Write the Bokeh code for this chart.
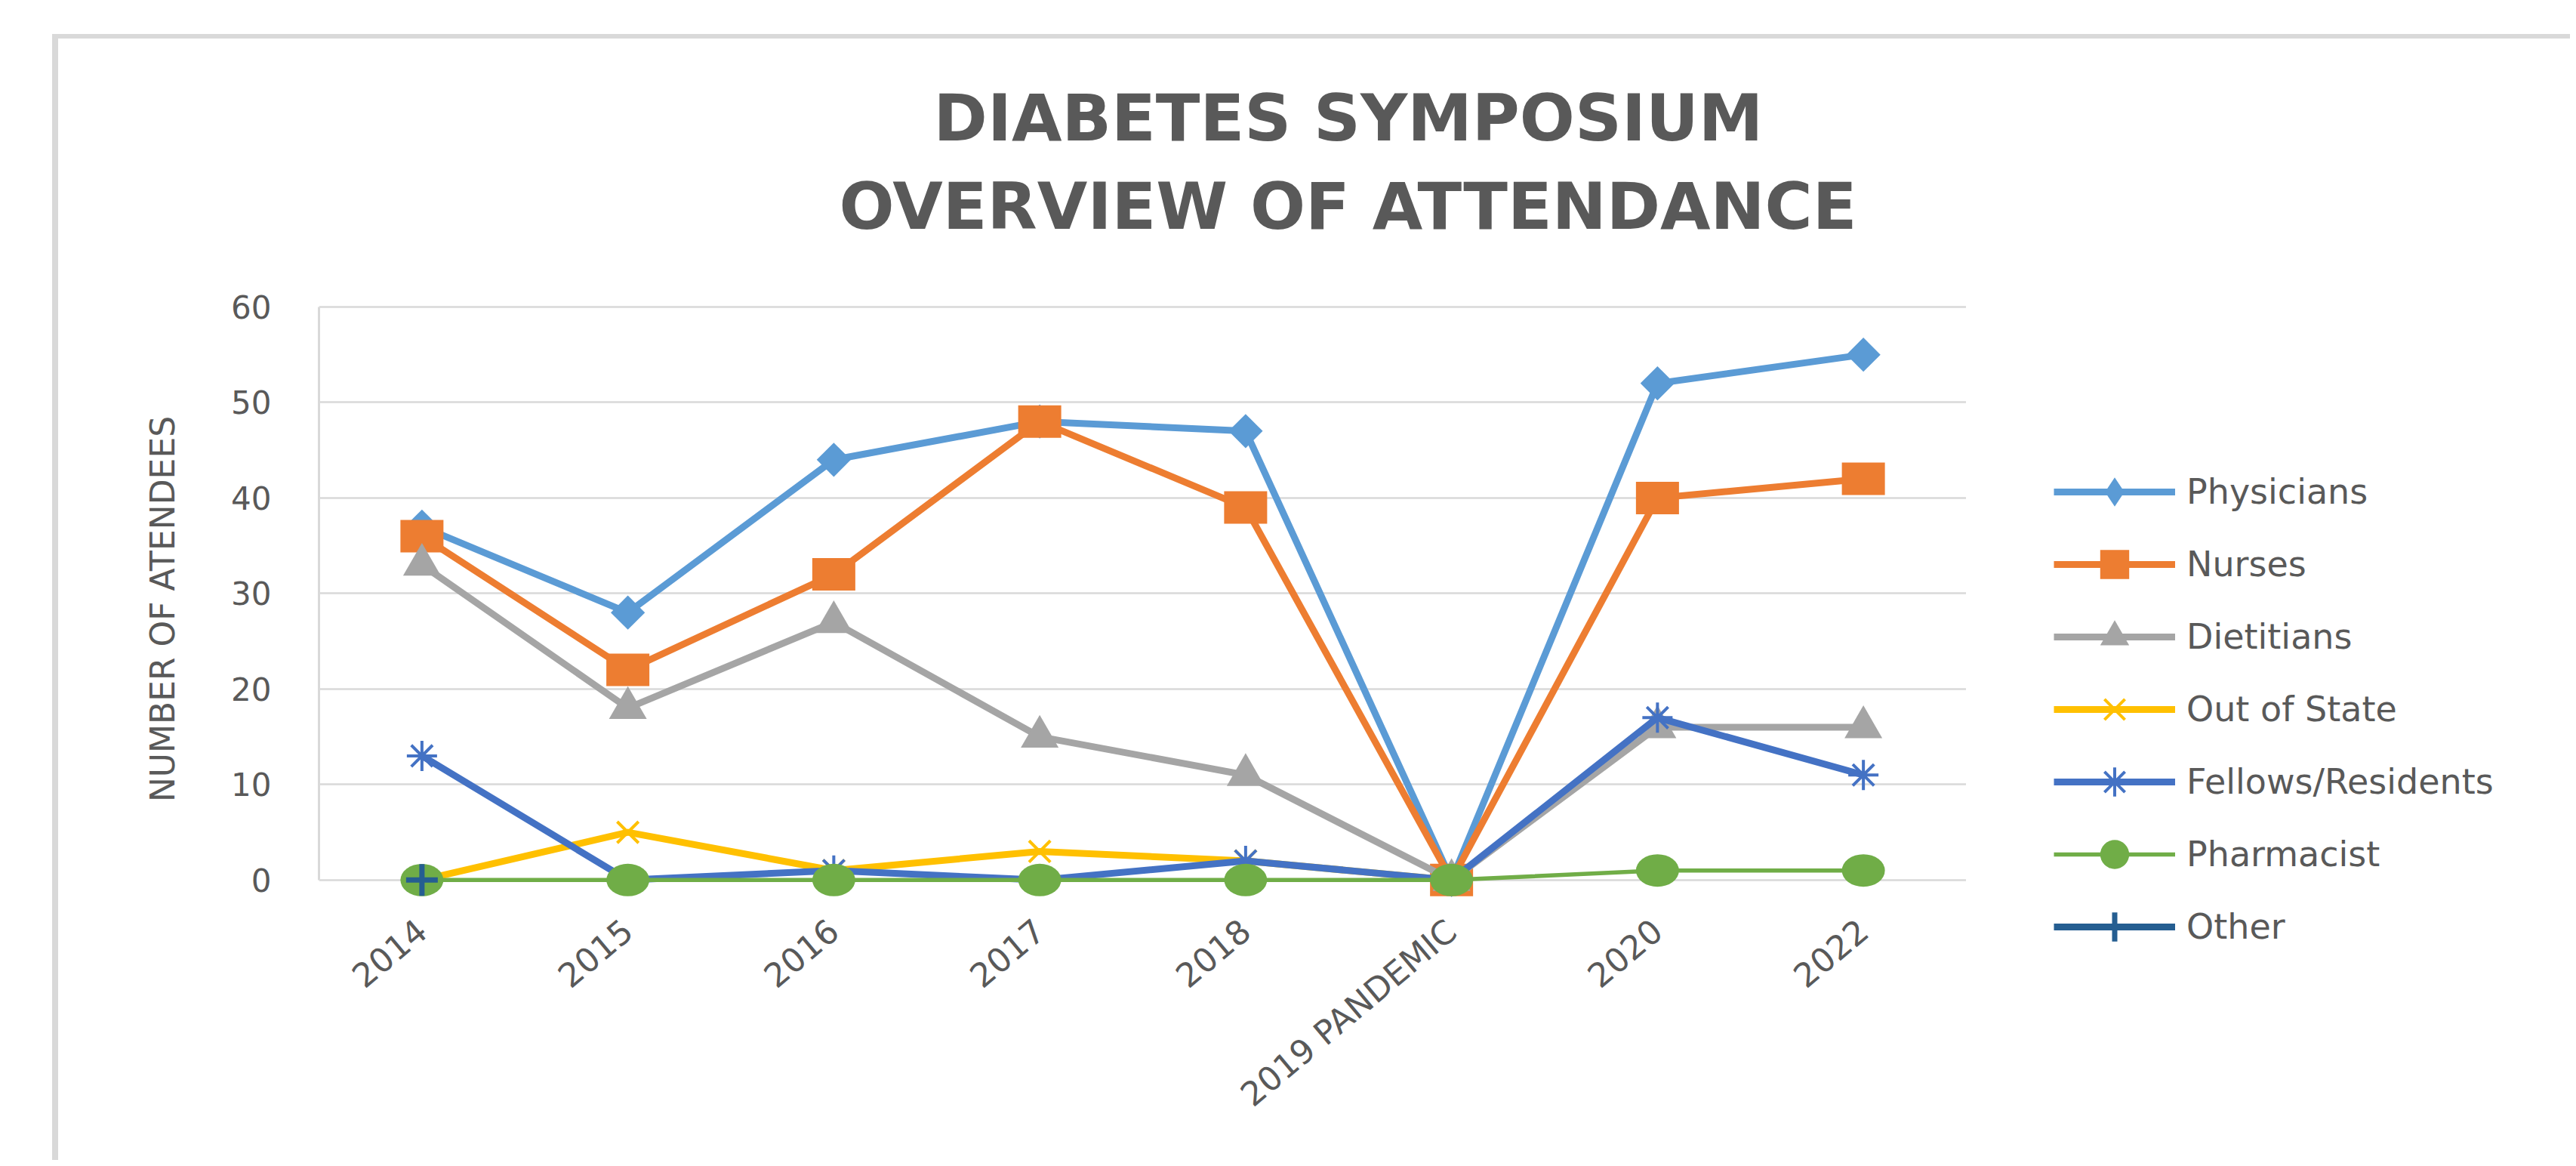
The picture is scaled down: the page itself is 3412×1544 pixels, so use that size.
import numpy as np
from math import pi, radians
from bokeh.plotting import figure
from bokeh.layouts import row
from bokeh.models import (ColumnDataSource, Range1d, FactorRange, FixedTicker,
                          Legend, LegendItem, Title)
from bokeh.embed import file_html
from bokeh.resources import INLINE

# ---------------- data ----------------
categories = ["2014", "2015", "2016", "2017", "2018", "2019 PANDEMIC", "2020", "2022"]
physicians = [37, 28, 44, 48, 47, 0, 52, 55]
nurses = [36, 22, 32, 48, 39, 0, 40, 42]
dietitians = [33, 18, 27, 15, 11, 0, 16, 16]
out_of_state = [0, 5, 1, 3, 2, 0, None, None]
fellows = [13, 0, 1, 0, 2, 0, 17, 11]
pharmacist = [0, 0, 0, 0, 0, 0, 1, 1]
other = [0, None, None, None, None, None, None, None]
y_ticks = [0, 10, 20, 30, 40, 50, 60]
title_lines = ["DIABETES SYMPOSIUM", "OVERVIEW OF ATTENDANCE"]
y_title = "NUMBER OF ATENDEES"

series_names = ["Physicians", "Nurses", "Dietitians", "Out of State",
                "Fellows/Residents", "Pharmacist", "Other"]
series_values = [physicians, nurses, dietitians, out_of_state, fellows, pharmacist, other]
series_colors = ["#5B9BD5", "#ED7D31", "#A5A5A5", "#FFC000", "#4472C4", "#70AD47", "#255E91"]


def arr(v):
    return np.array([np.nan if a is None else a for a in v], dtype=float)


TXT = "#595959"
GRID = "#d9d9d9"
FONT = "DejaVu Sans"
H = 1485
LW = 9

# ---------------- main chart ----------------
p = figure(x_range=FactorRange(factors=categories, range_padding=0),
           y_range=Range1d(-9.26, 66),
           width=2527, height=H, output_backend="svg", toolbar_location=None,
           min_border_left=345, min_border_right=0,
           min_border_top=279, min_border_bottom=254,
           background_fill_color="white", border_fill_color="white",
           outline_line_color=None)

p.xgrid.visible = False
p.ygrid.ticker = FixedTicker(ticks=y_ticks)
p.ygrid.grid_line_color = GRID
p.ygrid.grid_line_width = 2.5

ya = p.yaxis[0]
ya.ticker = FixedTicker(ticks=y_ticks)
ya.bounds = (0, 60)
ya.axis_line_color = GRID
ya.axis_line_width = 3
ya.major_tick_line_color = None
ya.minor_tick_line_color = None
ya.major_label_standoff = 57
ya.major_label_text_font = FONT
ya.major_label_text_font_size = "42px"
ya.major_label_text_color = TXT
ya.axis_label = y_title
ya.axis_label_standoff = 62
ya.axis_label_text_font = FONT
ya.axis_label_text_font_size = "44px"
ya.axis_label_text_font_style = "normal"
ya.axis_label_text_color = TXT

xa = p.xaxis[0]
xa.axis_line_color = None
xa.major_tick_line_color = None
xa.minor_tick_line_color = None
xa.major_label_orientation = radians(40)
xa.major_label_standoff = -62
xa.major_label_text_font = FONT
xa.major_label_text_font_size = "44px"
xa.major_label_text_color = TXT


def src_of(vals):
    return ColumnDataSource(dict(x=categories, y=arr(vals)))


def add_marker(fig, i, s, c, for_legend):
    if i == 0:      # Physicians: diamond
        if for_legend:
            return fig.scatter("x", "y", source=s, marker="diamond", size=40,
                               fill_color=c, line_color=None)
        return fig.scatter("x", "y", source=s, marker="square", angle=pi / 4, size=32,
                           fill_color=c, line_color=None)
    if i == 1:      # Nurses: square
        if for_legend:
            return fig.scatter("x", "y", source=s, marker="square", size=40,
                               fill_color=c, line_color=None)
        return fig.rect("x", "y", width=57, height=43, width_units="screen",
                        height_units="screen", source=s, fill_color=c, line_color=None)
    if i == 2:      # Dietitians: triangle
        return fig.scatter("x", "y", source=s, marker="triangle", size=50,
                           fill_color=c, line_color=None)
    if i == 3:      # Out of State: x
        return fig.scatter("x", "y", source=s, marker="x", size=40, line_color=c, line_width=4)
    if i == 4:      # Fellows/Residents: asterisk
        return fig.scatter("x", "y", source=s, marker="asterisk", size=40,
                           line_color=c, line_width=4)
    if i == 5:      # Pharmacist: circle
        if for_legend:
            return fig.scatter("x", "y", source=s, marker="circle", size=40,
                               fill_color=c, line_color=None)
        return fig.ellipse("x", "y", width=57, height=43, width_units="screen",
                           height_units="screen", source=s, fill_color=c, line_color=None)
    return fig.scatter("x", "y", source=s, marker="cross", size=42, line_color=c, line_width=7)


for i, (name, vals, c) in enumerate(zip(series_names, series_values, series_colors)):
    s = src_of(vals)
    p.line("x", "y", source=s, line_color=c, line_width=5.5 if i == 5 else LW,
           line_join="round")
    add_marker(p, i, s, c, False)

# title lines (added bottom line first)
for txt, off in [(title_lines[1], 689), (title_lines[0], 814)]:
    p.add_layout(Title(text=txt, align="left", offset=off, standoff=15,
                       text_font=FONT, text_font_style="bold",
                       text_font_size="86px", text_color=TXT), "above")

# ---------------- legend panel ----------------
pl = figure(x_range=FactorRange(factors=categories, range_padding=0),
            y_range=Range1d(1000, 1001),
            width=800, height=H, output_backend="svg", toolbar_location=None,
            x_axis_location=None, y_axis_location=None,
            min_border=0, min_border_left=0, min_border_right=0,
            min_border_top=0, min_border_bottom=0,
            background_fill_color="white", border_fill_color="white",
            outline_line_color=None)
for g in pl.grid:
    g.visible = False

items = []
for i, (name, vals, c) in enumerate(zip(series_names, series_values, series_colors)):
    s = src_of(vals)
    l = pl.line("x", "y", source=s, line_color=c, line_width=5.5 if i == 5 else LW,
                line_join="round")
    m = add_marker(pl, i, s, c, True)
    items.append(LegendItem(label=name, renderers=[l, m]))

legend = Legend(items=items, location=(116, 7), orientation="vertical",
                glyph_width=161, glyph_height=96, label_height=96, spacing=0,
                padding=0, margin=0, label_standoff=15,
                border_line_color=None, background_fill_alpha=0,
                label_text_font=FONT, label_text_font_size="46px",
                label_text_color=TXT)
pl.add_layout(legend)

layout = row(p, pl, spacing=0,
             styles={"margin-left": "69px", "margin-top": "45px",
                     "border-left": "8px solid #d9d9d9",
                     "border-top": "6px solid #d9d9d9"})

open("out.html", "w").write(file_html(layout, INLINE))
